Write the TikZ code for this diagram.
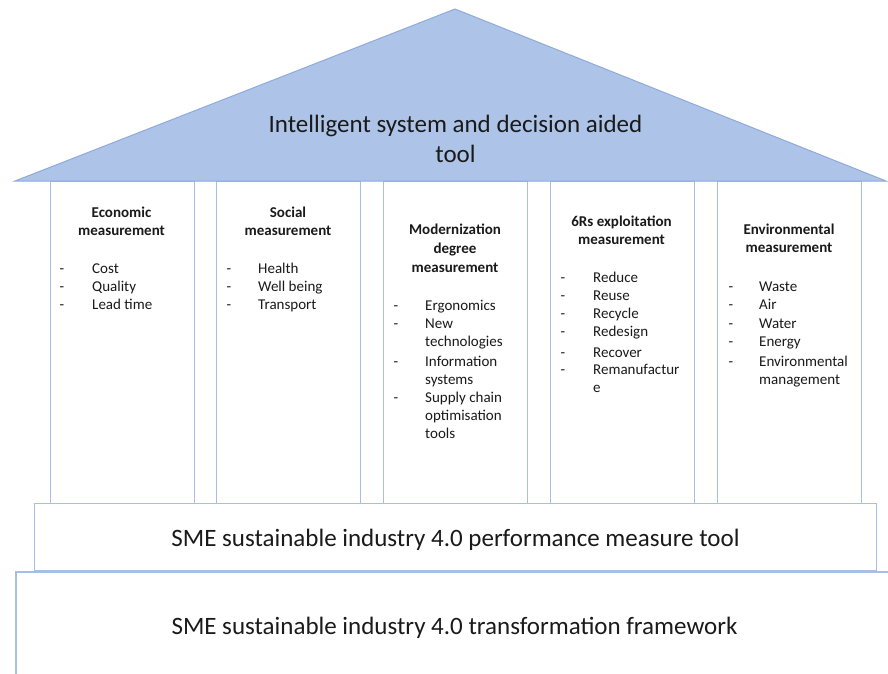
\documentclass[tikz,border=0pt]{standalone}
\usepackage{fontspec}
\setmainfont{Carlito}
\definecolor{roofFill}{HTML}{ADC4E8}
\definecolor{roofEdge}{HTML}{8FAADC}
\definecolor{pillEdge}{HTML}{A7BFE6}
\definecolor{txt}{HTML}{1A1A1A}
\begin{document}
\begin{tikzpicture}[x=1pt,y=-1pt,
  pillar/.style={draw=pillEdge, line width=1.3pt, fill=white, inner sep=0, anchor=north west},
  head/.style={font=\fontsize{15}{18}\selectfont\bfseries, inner sep=0, anchor=base, text=txt},
  item/.style={font=\fontsize{15}{18}\selectfont, inner sep=0, anchor=base west, text=txt},
  dashmark/.style={font=\fontsize{15}{18}\selectfont, inner sep=0, anchor=base, text=txt},
  big/.style={font=\fontsize{25}{30}\selectfont, inner sep=0, anchor=base, text=txt}]
\useasboundingbox (0,0) rectangle (888,674);

% pillars
\node[pillar, minimum width=144, minimum height=322] (p1) at (50,181) {};
\node[pillar, minimum width=144, minimum height=322] (p2) at (216,181) {};
\node[pillar, minimum width=144, minimum height=322] (p3) at (383,181) {};
\node[pillar, minimum width=144, minimum height=322] (p4) at (550,181) {};
\node[pillar, minimum width=144, minimum height=322] (p5) at (717,181) {};

% roof
\draw[fill=roofFill, draw=roofEdge, line width=1pt] (15,181) -- (455,9) -- (886,181) -- cycle;
\node[big] (roof1) at (455.5,132) {Intelligent system and decision aided};
\node[big] (roof2) at (455.5,162) {tool};

% base bars
\node[pillar, minimum width=842, minimum height=67] (tool) at (34,503) {};
\node[big] (toolt) at (455.5,546) {SME sustainable industry 4.0 performance measure tool};
\coordinate (fr) at (888,572);
\coordinate (fl) at (16,572);
\coordinate (fb) at (16,674);
\draw[pillEdge, line width=1.3pt] (fr) -- (fl) -- (fb);
\node[big] (frame) at (454.5,634) {SME sustainable industry 4.0 transformation framework};

% pillar 1
\node[head] (h1a) at (121.5,217) {Economic};
\node[head] (h1b) at (121.5,235) {measurement};
\node[dashmark] (d1a) at (62,273) {-}; \node[item] (i1a) at (92,273) {Cost};
\node[dashmark] (d1b) at (62,291) {-}; \node[item] (i1b) at (92,291) {Quality};
\node[dashmark] (d1c) at (62,309) {-}; \node[item] (i1c) at (92,309) {Lead time};

% pillar 2
\node[head] (h2a) at (288,217) {Social};
\node[head] (h2b) at (288,235) {measurement};
\node[dashmark] (d2a) at (229,273) {-}; \node[item] (i2a) at (258,273) {Health};
\node[dashmark] (d2b) at (229,291) {-}; \node[item] (i2b) at (258,291) {Well being};
\node[dashmark] (d2c) at (229,309) {-}; \node[item] (i2c) at (258,309) {Transport};

% pillar 3
\node[head] (h3a) at (455,234) {Modernization};
\node[head] (h3b) at (455,253) {degree};
\node[head] (h3c) at (455,272) {measurement};
\node[dashmark] (d3a) at (396,310) {-}; \node[item] (i3a) at (425,310) {Ergonomics};
\node[dashmark] (d3b) at (396,328) {-}; \node[item] (i3b) at (425,328) {New};
\node[item] (i3b2) at (425,346) {technologies};
\node[dashmark] (d3c) at (396,366) {-}; \node[item] (i3c) at (425,366) {Information};
\node[item] (i3c2) at (425,384) {systems};
\node[dashmark] (d3d) at (396,402) {-}; \node[item] (i3d) at (425,402) {Supply chain};
\node[item] (i3d2) at (425,420) {optimisation};
\node[item] (i3d3) at (425,438) {tools};

% pillar 4
\node[head] (h4a) at (621.5,226) {6Rs exploitation};
\node[head] (h4b) at (621.5,244) {measurement};
\node[dashmark] (d4a) at (563,282) {-}; \node[item] (i4a) at (593,282) {Reduce};
\node[dashmark] (d4b) at (563,300) {-}; \node[item] (i4b) at (593,300) {Reuse};
\node[dashmark] (d4c) at (563,318) {-}; \node[item] (i4c) at (593,318) {Recycle};
\node[dashmark] (d4d) at (563,336) {-}; \node[item] (i4d) at (593,336) {Redesign};
\node[dashmark] (d4e) at (563,357) {-}; \node[item] (i4e) at (593,357) {Recover};
\node[dashmark] (d4f) at (563,374) {-}; \node[item] (i4f) at (593,374) {Remanufactur};
\node[item] (i4f2) at (593,392) {e};

% pillar 5
\node[head] (h5a) at (789,234) {Environmental};
\node[head] (h5b) at (789,252) {measurement};
\node[dashmark] (d5a) at (731,291) {-}; \node[item] (i5a) at (759,291) {Waste};
\node[dashmark] (d5b) at (731,309) {-}; \node[item] (i5b) at (759,309) {Air};
\node[dashmark] (d5c) at (731,328) {-}; \node[item] (i5c) at (759,328) {Water};
\node[dashmark] (d5d) at (731,346) {-}; \node[item] (i5d) at (759,346) {Energy};
\node[dashmark] (d5e) at (731,366) {-}; \node[item] (i5e) at (759,366) {Environmental};
\node[item] (i5e2) at (759,384) {management};
\end{tikzpicture}
\end{document}
